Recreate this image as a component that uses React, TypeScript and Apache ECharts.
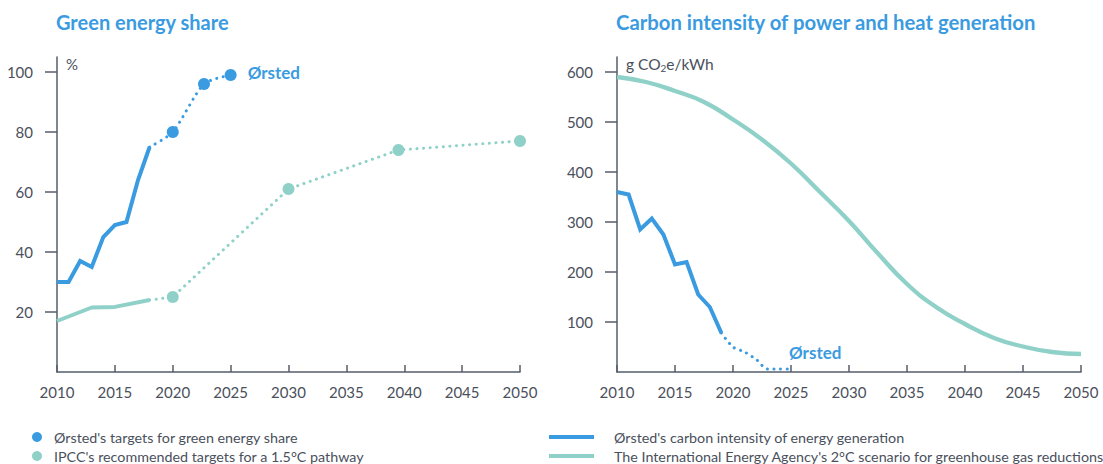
import React, { useEffect, useRef } from "react";
import * as echarts from "echarts";

const BLUE = "#3a9be0";
const TEAL = "#8fd1c8";
const AXIS = "#565d6a";
const TEXT = "#4a505c";
const FONT = 'Lato, "Noto Sans", sans-serif';

const leftTitle = "Green energy share";
const rightTitle = "Carbon intensity of power and heat generation";

const legendLeft1 = "Ørsted's targets for green energy share";
const legendLeft2 = "IPCC's recommended targets for a 1.5°C pathway";
const legendRight1 = "Ørsted's carbon intensity of energy generation";
const legendRight2 = "The International Energy Agency's 2°C scenario for greenhouse gas reductions";

const yearMin = 2010;
const yearMax = 2050;
const yearStep = 5;

const shareTicks = [20, 40, 60, 80, 100];
const intensityTicks = [100, 200, 300, 400, 500, 600];

// Left chart: green energy share (%)
const orstedShareYears = [2010, 2011, 2012, 2013, 2014, 2015, 2016, 2017, 2018];
const orstedShareValues = [30, 30, 37, 35, 45, 49, 50, 64, 75];
const orstedTargetYears = [2018, 2020, 2022.7, 2025];
const orstedTargetValues = [75, 80, 96, 99];
const ipccHistYears = [2010, 2013, 2015, 2018];
const ipccHistValues = [17, 21.5, 21.7, 24];
const ipccTargetYears = [2018, 2020, 2030, 2039.5, 2050];
const ipccTargetValues = [24, 25, 61, 74, 77];

// Right chart: carbon intensity (g CO2e/kWh)
const orstedCiYears = [2010, 2011, 2012, 2013, 2014, 2015, 2016, 2017, 2018, 2019];
const orstedCiValues = [360, 355, 285, 307, 275, 215, 220, 155, 130, 78];
const orstedCiTargetYears = [2019, 2020, 2021, 2022, 2023, 2024, 2025];
const orstedCiTargetValues = [78, 50, 40, 25, 6, 6, 6];
const ieaYears = [
  2010, 2012.5, 2015, 2017.5, 2020, 2022.5, 2025, 2027.5, 2030,
  2032.5, 2035, 2037.5, 2040, 2042.5, 2045, 2047.5, 2050,
];
const ieaValues = [
  590, 580, 562, 540, 505, 465, 417, 360, 302,
  237, 176, 130, 96, 68, 51, 40, 36,
];

const zip = (xs: number[], ys: number[]) => xs.map((x, i) => [x, ys[i]]);

const DOT = { width: 3, type: [0.1, 6.5] as number[], cap: "round" as const };

function xAxisCfg(gridIndex: number) {
  return {
    gridIndex,
    type: "value",
    min: yearMin,
    max: yearMax,
    interval: yearStep,
    axisLine: { show: true, lineStyle: { color: AXIS, width: 1.5 } },
    axisTick: { show: true, inside: true, length: 7, lineStyle: { color: AXIS, width: 1.5 } },
    axisLabel: {
      color: TEXT,
      fontSize: 15,
      fontFamily: FONT,
      margin: 12,
      formatter: (v: number) => String(v),
    },
    splitLine: { show: false },
  };
}

export default function App() {
  const ref = useRef<HTMLDivElement>(null);

  useEffect(() => {
    if (!ref.current) return;
    const chart = echarts.init(ref.current, undefined, { renderer: "svg" });

    const labelStyle = {
      color: BLUE,
      fontWeight: "bold",
      fontSize: 17,
      fontFamily: FONT,
    };

    const legendText = { color: TEXT, fontSize: 14.3, fontFamily: FONT, lineHeight: 16 };

    const option: any = {
      animation: false,
      backgroundColor: "#ffffff",
      title: [
        {
          text: leftTitle,
          left: 56,
          top: 12,
          padding: 0,
          textStyle: { color: BLUE, fontSize: 20, fontWeight: "bold", fontFamily: FONT },
        },
        {
          text: rightTitle,
          left: 616,
          top: 12,
          padding: 0,
          textStyle: { color: BLUE, fontSize: 20.3, fontWeight: "bold", fontFamily: FONT },
        },
      ],
      legend: [
        {
          orient: "vertical",
          left: 32,
          top: 429,
          padding: 0,
          icon: "circle",
          itemWidth: 10,
          itemHeight: 10,
          itemGap: 3,
          selectedMode: false,
          data: [legendLeft1, legendLeft2],
          itemStyle: { borderWidth: 0 },
          textStyle: { ...legendText, padding: [0, 0, 0, 7] },
        },
        {
          orient: "vertical",
          left: 549,
          top: 429,
          padding: 0,
          icon: "rect",
          itemWidth: 45,
          itemHeight: 4,
          itemGap: 3,
          selectedMode: false,
          data: [legendRight1, legendRight2],
          itemStyle: { borderWidth: 0 },
          textStyle: { ...legendText, padding: [0, 0, 0, 15] },
        },
      ],
      grid: [
        { left: 57, top: 57, width: 463, height: 315, outerBoundsMode: "none" },
        { left: 617, top: 57, width: 464, height: 315, outerBoundsMode: "none" },
      ],
      xAxis: [xAxisCfg(0), xAxisCfg(1)],
      yAxis: [
        {
          gridIndex: 0,
          type: "value",
          min: 0,
          max: 105,
          name: "%",
          nameLocation: "end",
          nameGap: -7,
          nameTextStyle: {
            color: TEXT,
            fontSize: 15,
            fontFamily: FONT,
            align: "left",
            verticalAlign: "middle",
            padding: [0, 0, 0, 9],
          },
          axisLine: { show: true, lineStyle: { color: AXIS, width: 1.5 } },
          axisTick: { show: true, length: 12, customValues: shareTicks, lineStyle: { color: AXIS, width: 1.5 } },
          axisLabel: { color: TEXT, fontSize: 15, fontFamily: FONT, margin: 24, customValues: shareTicks },
          splitLine: { show: false },
        },
        {
          gridIndex: 1,
          type: "value",
          min: 0,
          max: 630,
          name: "{a|g CO}{s|2}{a|e/kWh}",
          nameLocation: "end",
          nameGap: -7,
          nameTextStyle: {
            align: "left",
            verticalAlign: "middle",
            padding: [0, 0, 0, 9],
            rich: {
              a: { color: TEXT, fontSize: 15.5, fontFamily: FONT, lineHeight: 18 },
              s: { color: TEXT, fontSize: 10, fontFamily: FONT, lineHeight: 18, verticalAlign: "bottom" },
            },
          },
          axisLine: { show: true, lineStyle: { color: AXIS, width: 1.5 } },
          axisTick: { show: true, length: 12, customValues: intensityTicks, lineStyle: { color: AXIS, width: 1.5 } },
          axisLabel: { color: TEXT, fontSize: 15, fontFamily: FONT, margin: 24, customValues: intensityTicks },
          splitLine: { show: false },
        },
      ],
      series: [
        // ---- Left chart ----
        {
          type: "line",
          name: "IPCC history",
          xAxisIndex: 0,
          yAxisIndex: 0,
          data: zip(ipccHistYears, ipccHistValues),
          symbol: "none",
          lineStyle: { color: TEAL, width: 4, join: "round" },
          itemStyle: { color: TEAL },
          z: 2,
          silent: true,
        },
        {
          type: "line",
          name: legendLeft2,
          xAxisIndex: 0,
          yAxisIndex: 0,
          data: ipccTargetYears.map((y, i) => ({
            value: [y, ipccTargetValues[i]],
            symbol: i === 0 ? "none" : "circle",
          })),
          symbol: "circle",
          symbolSize: 12,
          showSymbol: true,
          lineStyle: { color: TEAL, ...DOT },
          itemStyle: { color: TEAL },
          z: 2,
          silent: true,
        },
        {
          type: "line",
          name: "Ørsted history",
          xAxisIndex: 0,
          yAxisIndex: 0,
          data: zip(orstedShareYears, orstedShareValues),
          symbol: "none",
          lineStyle: { color: BLUE, width: 4, join: "miter" },
          itemStyle: { color: BLUE },
          z: 3,
          silent: true,
        },
        {
          type: "line",
          name: legendLeft1,
          xAxisIndex: 0,
          yAxisIndex: 0,
          smooth: 0.25,
          data: orstedTargetYears.map((y, i) => ({
            value: [y, orstedTargetValues[i]],
            symbol: i === 0 ? "none" : "circle",
            label:
              i === orstedTargetYears.length - 1
                ? { show: true, formatter: "Ørsted", position: "right", distance: 11, offset: [0, -3], ...labelStyle }
                : { show: false },
          })),
          symbol: "circle",
          symbolSize: 12,
          showSymbol: true,
          lineStyle: { color: BLUE, ...DOT },
          itemStyle: { color: BLUE },
          z: 3,
          silent: true,
        },
        // ---- Right chart ----
        {
          type: "line",
          name: legendRight2,
          xAxisIndex: 1,
          yAxisIndex: 1,
          data: zip(ieaYears, ieaValues),
          smooth: 0.5,
          symbol: "none",
          lineStyle: { color: TEAL, width: 4.3 },
          itemStyle: { color: TEAL },
          z: 2,
          silent: true,
        },
        {
          type: "line",
          name: legendRight1,
          xAxisIndex: 1,
          yAxisIndex: 1,
          data: zip(orstedCiYears, orstedCiValues),
          symbol: "none",
          lineStyle: { color: BLUE, width: 4, join: "miter" },
          itemStyle: { color: BLUE },
          z: 3,
          silent: true,
        },
        {
          type: "line",
          name: "Ørsted intensity target",
          xAxisIndex: 1,
          yAxisIndex: 1,
          smooth: 0.3,
          data: orstedCiTargetYears.map((y, i) => {
            const last = i === orstedCiTargetYears.length - 1;
            return {
              value: [y, orstedCiTargetValues[i]],
              symbol: last ? "circle" : "none",
              symbolSize: 1,
              label: last
                ? { show: true, formatter: "Ørsted", position: "top", align: "left", distance: 8, offset: [-2, 0], ...labelStyle }
                : { show: false },
            };
          }),
          showSymbol: true,
          lineStyle: { color: BLUE, ...DOT },
          itemStyle: { color: BLUE },
          z: 3,
          silent: true,
        },
      ],
    };

    chart.setOption(option);
    return () => chart.dispose();
  }, []);

  return (
    <div
      ref={ref}
      style={{ position: "absolute", left: 0, top: 0, width: 1103, height: 464 }}
    />
  );
}
